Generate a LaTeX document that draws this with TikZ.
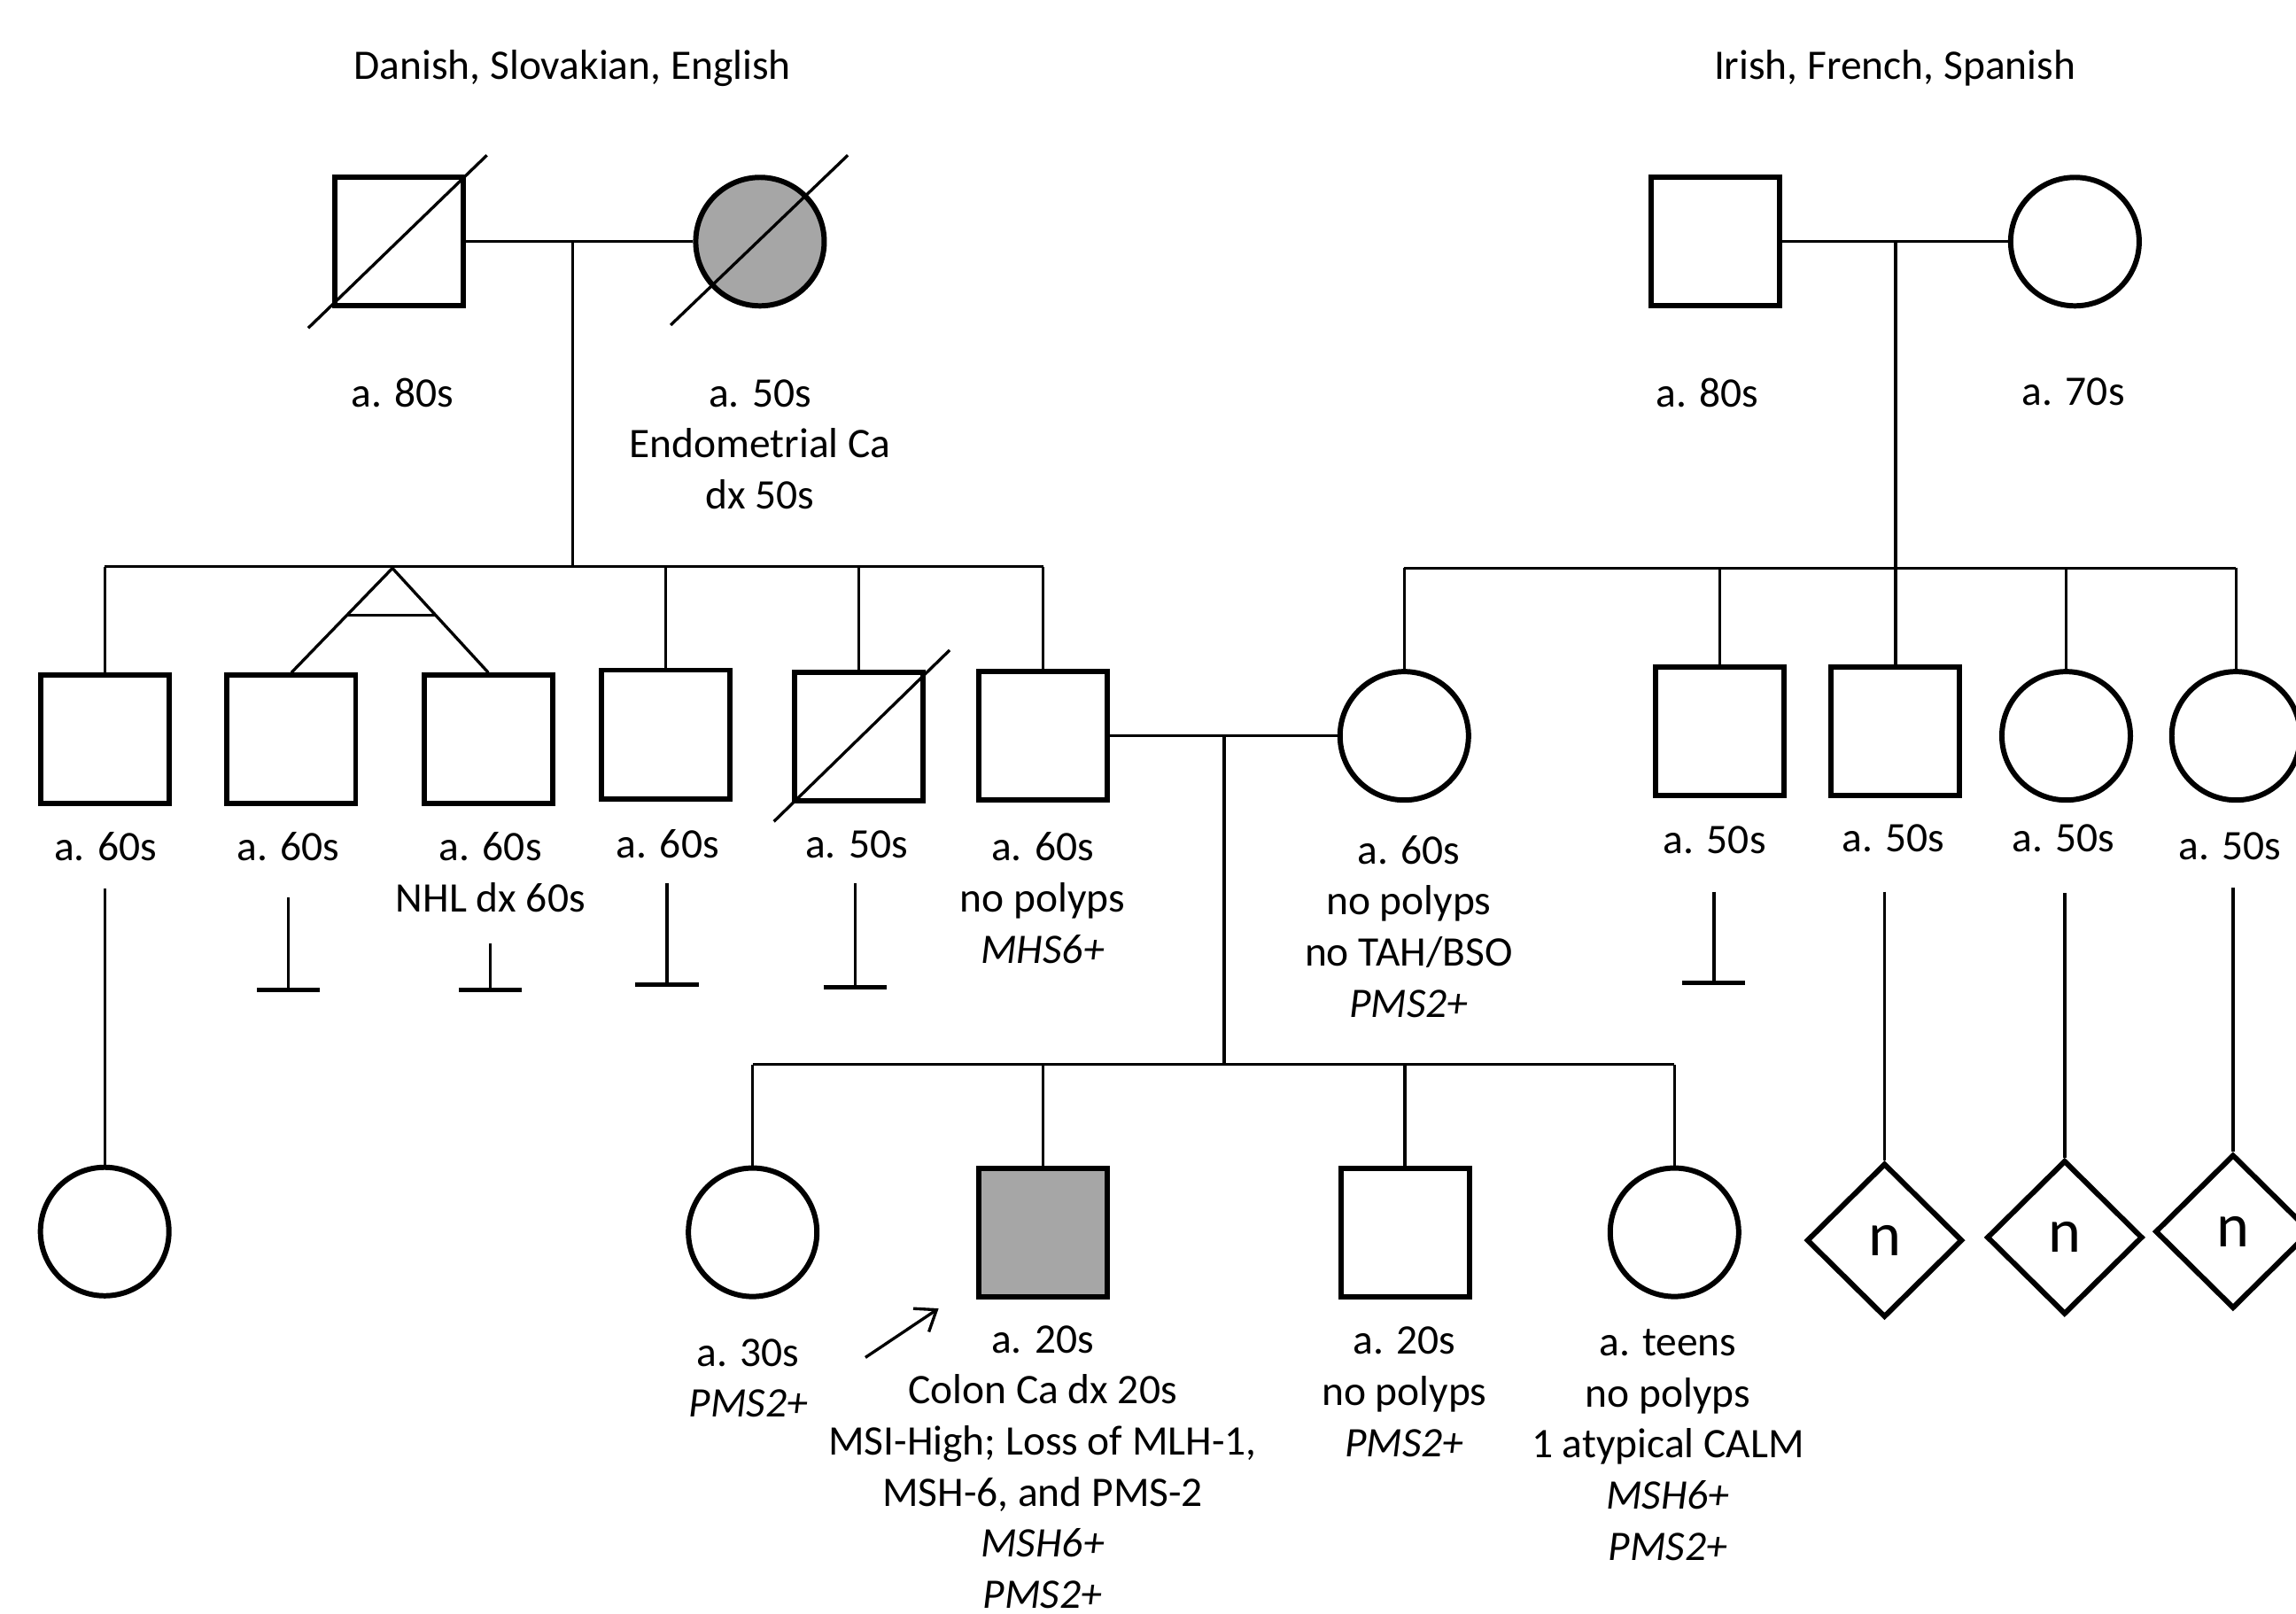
\documentclass[tikz,border=0pt]{standalone}
\usepackage{fontspec}
\setmainfont{Carlito}
\usetikzlibrary{shapes.geometric,calc,arrows.meta}
\definecolor{affgray}{RGB}{166,166,166}
\newcommand\lblfont{\fontsize{13.5}{16.4}\selectfont}
\begin{document}
\begin{tikzpicture}[x=0.01653cm,y=-0.01653cm,
  male/.style={draw, rectangle, line width=1.7pt, minimum size=1.45cm, inner sep=0pt, fill=white},
  female/.style={draw, circle, line width=1.7pt, minimum size=1.45cm, inner sep=0pt, fill=white},
  unk/.style={draw, diamond, line width=1.7pt, minimum width=1.76cm, minimum height=1.74cm, inner sep=0pt, fill=white, font=\fontsize{20}{24}\selectfont},
  conn/.style={line width=0.95pt},
  barline/.style={line width=1.5pt},
  slash/.style={line width=0.95pt},
  lbl/.style={font=\lblfont, align=center, anchor=north, inner sep=0pt}]
\useasboundingbox (0,0) rectangle (1568,1102);
\fill[white] (0,0) rectangle (1568,1102);
\clip (0,0) rectangle (1568,1102);

% ---------- Generation I ----------
\node[male] (gf) at (272.5,165) {};
\node[female, fill=affgray] (gm) at (519,165) {};
\node[male] (rgf) at (1171.5,165) {};
\node[female] (rgm) at (1417,165) {};

% ---------- Generation II ----------
\node[male] (c1) at (71.5,505) {};
\node[male] (t1) at (199,505) {};
\node[male] (t2) at (333.5,505) {};
\node[male] (c4) at (454.5,501.5) {};
\node[male] (c5) at (586.5,503) {};
\node[male] (fa) at (712.5,502.5) {};
\node[female] (mo) at (959,502.5) {};
\node[male] (r1) at (1174.5,499.5) {};
\node[male] (r2) at (1294.5,499.5) {};
\node[female] (r3) at (1411,502.5) {};
\node[female] (r4) at (1527,502.5) {};

% ---------- Generation III ----------
\node[female] (c1d) at (71.5,841) {};
\node[female] (s1) at (514,841.5) {};
\node[male, fill=affgray] (pb) at (712.5,841.5) {};
\node[male] (s3) at (959.5,841.5) {};
\node[female] (s4) at (1143.5,841.5) {};
\node[unk] (d1) at (1287,847) {n};
\node[unk] (d2) at (1410,845) {n};
\node[unk] (d3) at (1525,841) {n};

% ---------- deceased slashes ----------
\draw[slash] ($(gf.center)+(-62,59)$) -- ($(gf.center)+(60,-59)$);
\draw[slash] ($(gm.center)+(-61,57)$) -- ($(gm.center)+(60,-59)$);
\draw[slash] ($(c5.center)+(-58,58)$) -- ($(c5.center)+(62,-59)$);

% ---------- left family ----------
\coordinate (m1) at (391,165);
\coordinate (sib1) at (391,387);
\draw[conn] (gf.east) -- (gm.west);
\draw[conn] (m1) -- (sib1);
\draw[conn] (c1.north |- sib1) -- (fa.north |- sib1);
\draw[conn] (c1.north |- sib1) -- (c1.north);
\coordinate (tw) at (268,388);
\draw[conn] (t1.north) -- (tw) -- (t2.north);
\draw[conn] ($(tw)!0.45!(t1.north)$) -- ($(tw)!0.45!(t2.north)$);
\draw[conn] (c4.north |- sib1) -- (c4.north);
\draw[conn] (c5.north |- sib1) -- (c5.north);
\draw[conn] (fa.north |- sib1) -- (fa.north);

% ---------- right family ----------
\coordinate (m3) at (1294.5,165);
\coordinate (sib2) at (1294.5,388);
\draw[conn] (rgf.east) -- (rgm.west);
\draw[conn] (m3) -- (r2.north);
\draw[conn] (mo.north |- sib2) -- (r4.north |- sib2);
\draw[conn] (mo.north |- sib2) -- (mo.north);
\draw[conn] (r1.north |- sib2) -- (r1.north);
\draw[conn] (r3.north |- sib2) -- (r3.north);
\draw[conn] (r4.north |- sib2) -- (r4.north);

% ---------- parents of proband ----------
\coordinate (m2) at (836,502.5);
\coordinate (sib3) at (836,727);
\draw[conn] (fa.east) -- (mo.west);
\draw[conn] (m2) -- (sib3);
\draw[conn] (s1.north |- sib3) -- (s4.north |- sib3);
\draw[conn] (s1.north |- sib3) -- (s1.north);
\draw[conn] (pb.north |- sib3) -- (pb.north);
\draw[conn] (s3.north |- sib3) -- (s3.north);
\draw[conn] (s4.north |- sib3) -- (s4.north);

% ---------- no offspring ----------
\coordinate (t1a) at (197,613);  \coordinate (t1b) at (197,676);
\draw[conn] (t1a) -- (t1b);
\draw[barline] ($(t1b)+(-21.5,0)$) -- ($(t1b)+(21.5,0)$);
\coordinate (t2a) at (335,644);  \coordinate (t2b) at (335,676);
\draw[conn] (t2a) -- (t2b);
\draw[barline] ($(t2b)+(-21.5,0)$) -- ($(t2b)+(21.5,0)$);
\coordinate (c4a) at (455.5,603); \coordinate (c4b) at (455.5,672.5);
\draw[conn] (c4a) -- (c4b);
\draw[barline] ($(c4b)+(-21.5,0)$) -- ($(c4b)+(21.5,0)$);
\coordinate (c5a) at (584,603);  \coordinate (c5b) at (584,674);
\draw[conn] (c5a) -- (c5b);
\draw[barline] ($(c5b)+(-21.5,0)$) -- ($(c5b)+(21.5,0)$);
\coordinate (r1a) at (1170.5,609); \coordinate (r1b) at (1170.5,671);
\draw[conn] (r1a) -- (r1b);
\draw[barline] ($(r1b)+(-21.5,0)$) -- ($(r1b)+(21.5,0)$);

% ---------- offspring lines ----------
\coordinate (c1a) at (71,607);
\draw[conn] (c1d.north |- c1a) -- (c1d.north);
\coordinate (r2a) at (1287,609);
\draw[conn] (d1.north |- r2a) -- (d1.north);
\coordinate (r3a) at (1409,610);
\draw[conn] (d2.north |- r3a) -- (d2.north);
\coordinate (r4a) at (1526,606);
\draw[conn] (d3.north |- r4a) -- (d3.north);

% ---------- proband arrow ----------
\coordinate (pa1) at (591,927);
\coordinate (pa2) at (641,893.5);
\draw[conn, -{Straight Barb[length=6pt,width=9pt]}] (pa1) -- (pa2);

% ---------- labels ----------
\node[lbl] (lt1) at (391,29) {\strut Danish, Slovakian, English};
\node[lbl] (lt2) at (1294,29) {\strut Irish, French, Spanish};
\node[lbl] (lgf) at (275,253) {\strut a. 80s};
\node[lbl] (lgm) at (519,253) {\strut a. 50s\\Endometrial Ca\\dx 50s};
\node[lbl] (lrgf) at (1166,253) {\strut a. 80s};
\node[lbl] (lrgm) at (1416,252) {\strut a. 70s};
\node[lbl] (lc1) at (72,563) {\strut a. 60s};
\node[lbl] (lt1b) at (197,563) {\strut a. 60s};
\node[lbl] (lt2b) at (335,563) {\strut a. 60s\\NHL dx 60s};
\node[lbl] (lc4) at (456,561) {\strut a. 60s};
\node[lbl] (lc5) at (585,561) {\strut a. 50s};
\node[lbl] (lfa) at (712,563) {\strut a. 60s\\no polyps\\\textit{MHS6+}};
\node[lbl] (lmo) at (962,565) {\strut a. 60s\\no polyps\\no TAH/BSO\\\textit{PMS2+}};
\node[lbl] (lr1) at (1171,558) {\strut a. 50s};
\node[lbl] (lr2) at (1293,557) {\strut a. 50s};
\node[lbl] (lr3) at (1409,557) {\strut a. 50s};
\node[lbl] (lr4) at (1523,562) {\strut a. 50s};
\node[lbl] (ls1) at (511,908) {\strut a. 30s\\\textit{PMS2+}};
\node[lbl] (lpb) at (712,899) {\strut a. 20s\\Colon Ca dx 20s\\MSI-High; Loss of MLH-1,\\MSH-6, and PMS-2\\\textit{MSH6+}\\\textit{PMS2+}};
\node[lbl] (ls3) at (959,900) {\strut a. 20s\\no polyps\\\textit{PMS2+}};
\node[lbl] (ls4) at (1139,901) {\strut a. teens\\no polyps\\1 atypical CALM\\\textit{MSH6+}\\\textit{PMS2+}};
\end{tikzpicture}
\end{document}
